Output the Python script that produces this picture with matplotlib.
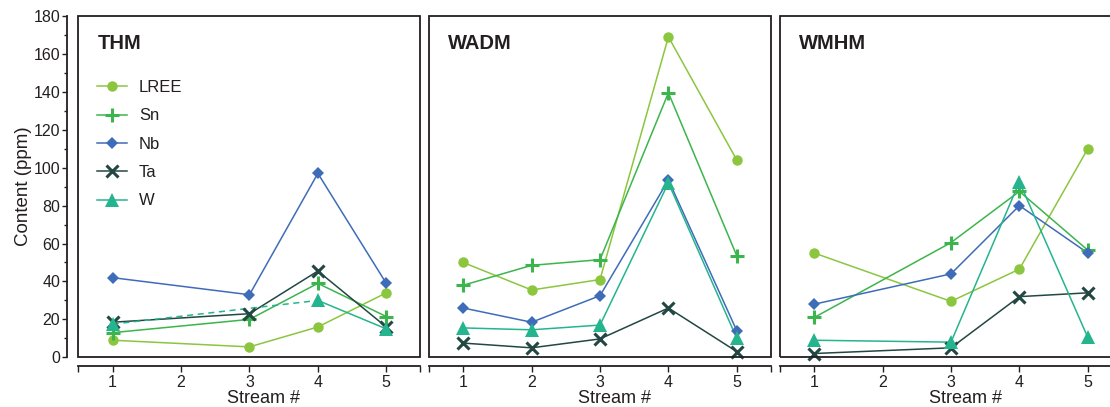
import numpy as np
import matplotlib
matplotlib.use("Agg")
import matplotlib.pyplot as plt
from matplotlib.lines import Line2D
from matplotlib.patches import Rectangle
from matplotlib.ticker import FixedLocator, MultipleLocator

plt.rcParams['font.family'] = ['Liberation Sans', 'DejaVu Sans']

nan = np.nan

# streams sampled in each area (stream 2 not sampled in THM / WMHM)
thm_streams = [1, 3, 4, 5]
wadm_streams = [1, 2, 3, 4, 5]
wmhm_streams = [1, 3, 4, 5]

# content in ppm, nan = no value (bridged with a dashed line)
thm_lree = [9, 5.5, 16, 34]
thm_sn = [13, 20, 39, 21.5]
thm_nb = [42, 33, 97, 39]
thm_ta = [18.5, 23, 45.5, 16]
thm_w = [17.5, nan, 30, 15]

wadm_lree = [50, 35.5, 41, 169, 104]
wadm_sn = [38, 48.5, 51.5, 139.5, 53.5]
wadm_nb = [26, 18.5, 32.5, 93.5, 14]
wadm_ta = [7.5, 5, 9.7, 26, 3]
wadm_w = [15.5, 14.5, 17, 92, 10]

wmhm_lree = [55, 29.5, 46.5, 110]
wmhm_sn = [21, 60.5, 87.5, 56.5]
wmhm_nb = [28, 44, 80, 55]
wmhm_ta = [2, 5, 32, 34]
wmhm_w = [9, 8, 92.5, 10.5]

elements = ['LREE', 'Sn', 'Nb', 'Ta', 'W']
panels = ['THM', 'WADM', 'WMHM']
panel_streams = [thm_streams, wadm_streams, wmhm_streams]
panel_data = [
    [thm_lree, thm_sn, thm_nb, thm_ta, thm_w],
    [wadm_lree, wadm_sn, wadm_nb, wadm_ta, wadm_w],
    [wmhm_lree, wmhm_sn, wmhm_nb, wmhm_ta, wmhm_w],
]

colors = ['#8cc63f', '#3cb54c', '#3f6cb8', '#234742', '#24b58e']
styles = [
    dict(marker='o', ms=7.5, mew=0),
    dict(marker='+', ms=10, mew=2.2),
    dict(marker='D', ms=6.5, mew=0),
    dict(marker='x', ms=8, mew=2.2),
    dict(marker='^', ms=9.5, mew=0),
]
text_col = '#231f20'

fig = plt.figure(figsize=(11.1, 4.07), dpi=100)
lefts = [0.0707, 0.3865, 0.7027]

for i, name in enumerate(panels):
    ax = fig.add_axes([lefts[i], 0.1221, 0.3081, 0.8386])
    x = np.array(panel_streams[i], dtype=float)
    for vals, c, st in zip(panel_data[i], colors, styles):
        y = np.array(vals, dtype=float)
        ok = ~np.isnan(y)
        xv, yv = x[ok], y[ok]
        idx = np.where(ok)[0]
        # solid lines between neighbouring values, dashed across a missing one
        for k in range(len(xv) - 1):
            ls = '-' if idx[k + 1] - idx[k] == 1 else (0, (4, 3))
            ax.plot(xv[k:k + 2], yv[k:k + 2], color=c, lw=1.1, ls=ls, zorder=2)
        ax.plot(xv, yv, ls='none', color=c, mfc=c, mec=c, zorder=3, clip_on=False, **st)

    ax.set_xlim(0.5, 5.5)
    ax.set_ylim(0, 180)
    for s in ['top', 'right']:
        ax.spines[s].set_visible(False)
    ax.add_patch(Rectangle((0, 0), 1, 1, transform=ax.transAxes, fill=False,
                           lw=1.3, ec=text_col, clip_on=False, zorder=5))
    ax.spines['bottom'].set_position(('outward', 6))
    ax.spines['bottom'].set_linewidth(1.3)
    ax.spines['bottom'].set_color(text_col)
    ax.xaxis.set_major_locator(FixedLocator([1, 2, 3, 4, 5]))
    ax.xaxis.set_minor_locator(FixedLocator([0.5, 5.5]))
    ax.tick_params(axis='x', which='both', direction='out', length=4, width=1,
                   color=text_col, labelsize=11.5, labelcolor=text_col, pad=3)
    ax.set_xlabel('Stream #', fontsize=13, color=text_col, labelpad=0)
    ax.xaxis.set_label_coords(0.542, -0.095)

    if i == 0:
        ax.spines['left'].set_position(('outward', 8))
        ax.spines['left'].set_linewidth(1.3)
        ax.spines['left'].set_color(text_col)
        ax.yaxis.set_major_locator(MultipleLocator(20))
        ax.yaxis.set_minor_locator(MultipleLocator(10))
        ax.tick_params(axis='y', which='major', length=3.6, width=1, color=text_col,
                       labelsize=11.5, labelcolor=text_col, pad=1.5)
        ax.tick_params(axis='y', which='minor', length=2.2, width=1, color=text_col)
        ax.set_ylabel('Content (ppm)', fontsize=13.5, color=text_col, labelpad=1)
        handles = [Line2D([], [], color=c, lw=1.1, mfc=c, mec=c, **st)
                   for c, st in zip(colors, styles)]
        leg = ax.legend(handles, elements, loc='upper left', frameon=False,
                        bbox_to_anchor=(0.055, 0.812), borderaxespad=0, borderpad=0,
                        handlelength=1.8, handletextpad=0.7, labelspacing=0.8,
                        fontsize=12)
        for t in leg.get_texts():
            t.set_color(text_col)
    else:
        ax.spines['left'].set_visible(False)
        ax.tick_params(axis='y', which='both', left=False, labelleft=False)

    ax.text(0.055, 0.92, name, transform=ax.transAxes, fontsize=14.5,
            fontweight='bold', color=text_col, va='center', ha='left')

fig.savefig('out.png', dpi=100)
